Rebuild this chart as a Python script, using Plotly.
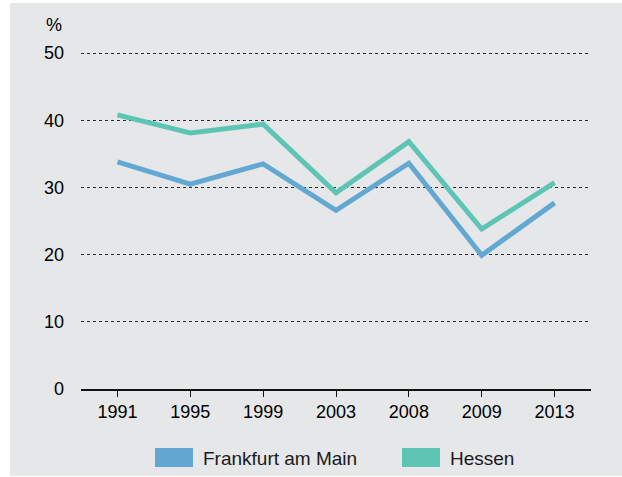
import plotly.graph_objects as go

years = ["1991", "1995", "1999", "2003", "2008", "2009", "2013"]
frankfurt = [33.8, 30.5, 33.5, 26.6, 33.6, 19.9, 27.7]
hessen = [40.8, 38.1, 39.4, 29.2, 36.8, 23.8, 30.7]
y_ticks = [0, 10, 20, 30, 40, 50]
series_names = ["Frankfurt am Main", "Hessen"]
colors = ["#62a8d3", "#5ec5b5"]

W, H = 622, 477
ml, mr, mt, mb = 81, 31, 51, 88
pw, ph = W - ml - mr, H - mt - mb

def px_x(p):
    return (p - ml) / pw

def px_y(p):
    return (H - mb - p) / ph

FONT = "Liberation Sans, Arial, Helvetica, sans-serif"
TXT = "#000000"

fig = go.Figure()
for name, vals, col in zip(series_names, [frankfurt, hessen], colors):
    fig.add_trace(go.Scatter(x=years, y=vals, mode="lines", name=name,
                             line=dict(color=col, width=5), showlegend=False,
                             hoverinfo="skip"))

shapes = [
    dict(type="rect", xref="paper", yref="paper", layer="below",
         x0=px_x(10), x1=px_x(622), y0=px_y(476), y1=px_y(3),
         fillcolor="#e6e7e8", line=dict(width=0)),
]
annotations = [
    dict(text="%", xref="paper", yref="paper", x=px_x(54), y=px_y(25),
         showarrow=False, font=dict(family=FONT, size=18, color=TXT),
         xanchor="center", yanchor="middle"),
]
# manual legend
leg = [(155, 203, 0), (402, 450, 1)]
for sx, tx, i in leg:
    shapes.append(dict(type="rect", xref="paper", yref="paper",
                       x0=px_x(sx), x1=px_x(sx + 38), y0=px_y(467), y1=px_y(448),
                       fillcolor=colors[i], line=dict(width=0)))
    annotations.append(dict(text=series_names[i], xref="paper", yref="paper",
                            x=px_x(tx - 2), y=px_y(458), showarrow=False,
                            xanchor="left", yanchor="middle",
                            font=dict(family=FONT, size=19, color="#1a1a1a")))

fig.update_layout(
    width=W, height=H,
    margin=dict(l=ml, r=mr, t=mt, b=mb, pad=0),
    paper_bgcolor="white", plot_bgcolor="rgba(0,0,0,0)",
    font=dict(family=FONT, size=18, color=TXT),
    shapes=shapes, annotations=annotations,
    xaxis=dict(type="category", range=[-0.5, 6.5], showgrid=False,
               showline=True, linecolor="#111111", linewidth=1.5,
               ticks="outside", ticklen=6, tickwidth=1, tickcolor="#111111",
               tickfont=dict(size=18), fixedrange=True, zeroline=False),
    yaxis=dict(range=[0, 50.3], tickvals=y_ticks, showgrid=True,
               gridcolor="#2a2a2a", griddash="3px,3px", gridwidth=1,
               zeroline=False, showline=False, ticks="",
               ticklabelstandoff=16, tickfont=dict(size=18), fixedrange=True),
)

fig.write_html("out.html", config={"displayModeBar": False},
               post_script="document.body.style.margin='0';document.body.style.padding='0';")
